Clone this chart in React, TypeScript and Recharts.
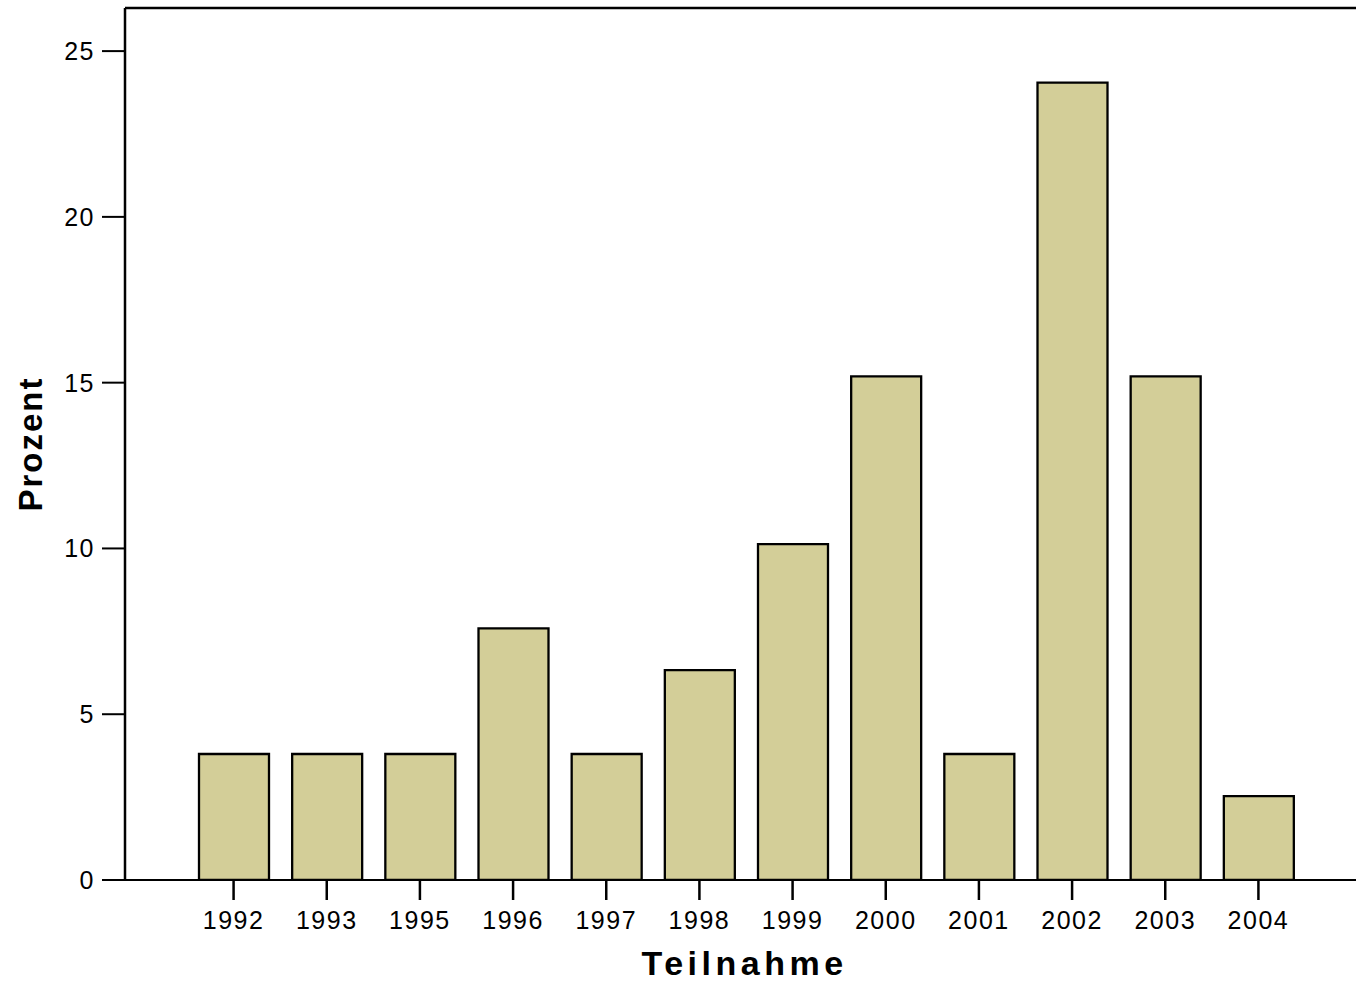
import React from 'react';
import { BarChart, Bar, XAxis, YAxis, ReferenceLine } from 'recharts';

const years = ['1992', '1993', '1995', '1996', '1997', '1998', '1999', '2000', '2001', '2002', '2003', '2004'];
const percents = [3.80, 3.80, 3.80, 7.59, 3.80, 6.33, 10.13, 15.19, 3.80, 24.05, 15.19, 2.53];
const yTicks = [0, 5, 10, 15, 20, 25];
const yMax = 26.3;

const data = years.map((y, i) => ({ year: y, value: percents[i] }));

const FONT = 'Arial, "Liberation Sans", sans-serif';

export default function App() {
  return (
    <div style={{ position: 'absolute', left: 0, top: 0, width: 1356, height: 983, background: '#fff' }}>
      <BarChart
        width={1356}
        height={983}
        data={data}
        margin={{ top: 8, right: 0, left: 0, bottom: 0 }}
        barSize={70}
      >
        <XAxis
          dataKey="year"
          height={103}
          padding={{ left: 62, right: 51 }}
          stroke="#000"
          strokeWidth={2}
          tickSize={20}
          tickMargin={11}
          tick={{ fill: '#000', fontSize: 25, fontFamily: FONT, letterSpacing: 1.5 }}
          tickLine={{ stroke: '#000', strokeWidth: 2.5 }}
          label={{
            content: (props: any) => {
              const vb = props.viewBox;
              return (
                <text
                  x={vb.x + vb.width / 2 + 4}
                  y={975}
                  textAnchor="middle"
                  fill="#000"
                  fontSize={34}
                  fontWeight="bold"
                  fontFamily={FONT}
                  letterSpacing={4.5}
                >
                  Teilnahme
                </text>
              );
            },
          }}
        />
        <YAxis
          width={125}
          domain={[0, yMax]}
          ticks={yTicks}
          allowDataOverflow
          stroke="#000"
          strokeWidth={2.5}
          tickSize={23}
          tickMargin={7}
          tick={{ fill: '#000', fontSize: 25, fontFamily: FONT, letterSpacing: 1.5 }}
          tickLine={{ stroke: '#000', strokeWidth: 2 }}
          label={{
            content: (props: any) => {
              const vb = props.viewBox;
              const cy = vb.y + vb.height / 2;
              return (
                <text
                  x={42}
                  y={cy}
                  transform={`rotate(-90, 42, ${cy})`}
                  textAnchor="middle"
                  fill="#000"
                  fontSize={33}
                  fontWeight="bold"
                  fontFamily={FONT}
                  letterSpacing={2}
                >
                  Prozent
                </text>
              );
            },
          }}
        />
        <ReferenceLine y={yMax} stroke="#000" strokeWidth={2.5} />
        <Bar dataKey="value" fill="#D3CE98" stroke="#000" strokeWidth={2.3} isAnimationActive={false} />
      </BarChart>
    </div>
  );
}
